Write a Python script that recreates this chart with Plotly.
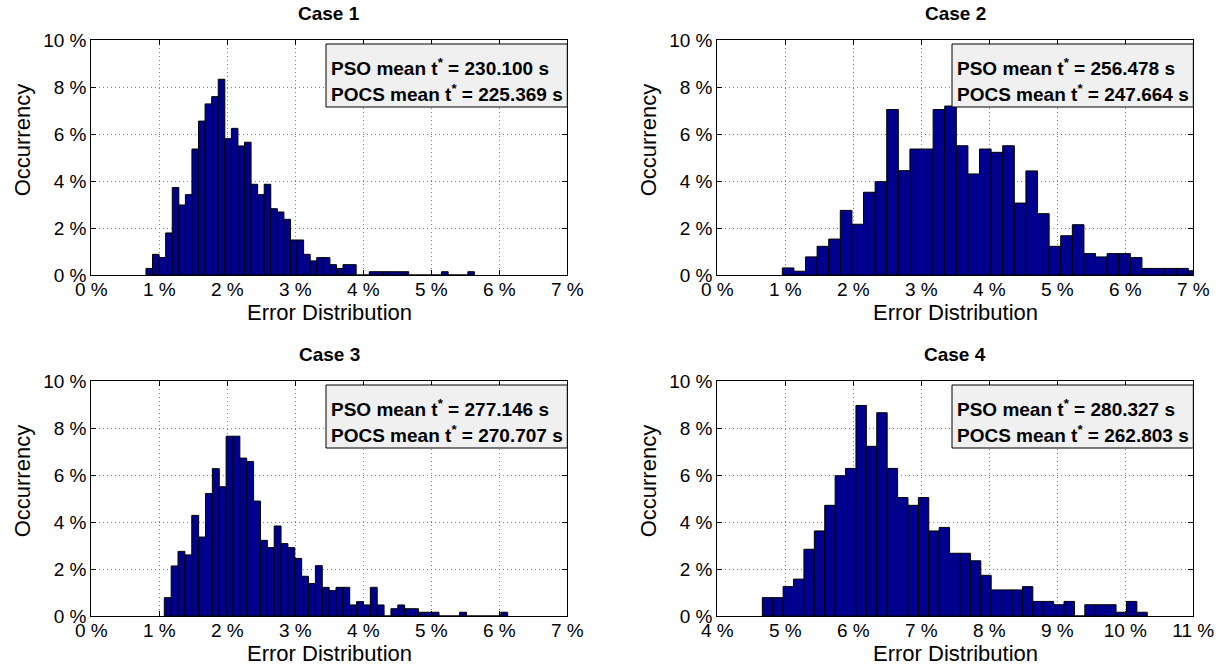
import plotly.graph_objects as go

# ---------------- data ----------------
case_titles = ["Case 1", "Case 2", "Case 3", "Case 4"]
pso_means = ["230.100", "256.478", "277.146", "280.327"]
pocs_means = ["225.369", "247.664", "270.707", "262.803"]

# histogram bin start (%) and bin width (%) for each case
case1_start, case1_width = 0.804, 0.0966
case2_start, case2_width = 0.956, 0.1706
case3_start, case3_width = 1.0735, 0.101
case4_start, case4_width = 4.662, 0.153

# occurrency (%) per bin
case1_vals = [0.28, 0.88, 0.74, 1.79, 3.72, 2.98, 3.42, 5.36, 6.55, 7.28,
              7.59, 8.33, 5.80, 6.24, 5.49, 5.65, 3.86, 3.42, 3.86, 2.82,
              2.68, 2.37, 1.49, 1.49, 0.88, 0.60, 0.74, 0.74, 0.44, 0.28,
              0.44, 0.44, 0, 0, 0.14, 0.14, 0.14, 0.14, 0.14, 0.14,
              0, 0, 0, 0, 0, 0.14, 0, 0, 0, 0.14]
case2_vals = [0.30, 0.16, 0.77, 1.22, 1.53, 2.75, 2.16, 3.52, 3.97, 7.04,
              4.44, 5.36, 5.36, 7.04, 7.19, 5.50, 4.30, 5.36, 5.22, 5.50,
              3.06, 4.43, 2.61, 1.22, 1.67, 2.14, 0.91, 0.77, 0.91, 0.91,
              0.74, 0.28, 0.28, 0.28, 0.28, 0.18]
case3_vals = [0.78, 2.13, 2.75, 2.60, 4.28, 3.36, 5.21, 6.27, 5.50, 7.65,
              7.65, 6.72, 6.57, 4.89, 3.22, 2.91, 3.83, 3.08, 2.91, 2.45,
              1.69, 1.38, 2.14, 1.22, 1.08, 1.22, 1.22, 0.47, 0.61, 0.47,
              1.22, 0.47, 0, 0.31, 0.47, 0.31, 0.31, 0.16, 0.16, 0.16,
              0, 0, 0, 0.16, 0, 0, 0, 0, 0, 0.16]
case4_vals = [0.78, 0.78, 1.25, 1.57, 2.84, 3.62, 4.71, 5.97, 6.28, 8.96,
              7.22, 8.65, 6.28, 5.04, 4.71, 5.04, 3.62, 3.77, 2.67, 2.67,
              2.35, 1.73, 1.11, 1.11, 1.11, 1.25, 0.62, 0.62, 0.48, 0.62,
              0, 0.48, 0.48, 0.48, 0.16, 0.62, 0.16]

x_tick_sets = [[0, 1, 2, 3, 4, 5, 6, 7], [0, 1, 2, 3, 4, 5, 6, 7],
               [0, 1, 2, 3, 4, 5, 6, 7], [4, 5, 6, 7, 8, 9, 10, 11]]
y_ticks = [0, 2, 4, 6, 8, 10]

# ---------------- layout helpers ----------------
W, H = 1231, 672
def px(x):
    return x / W
def py(y):
    return 1 - y / H

FONT = "Liberation Sans, Arial, Helvetica, sans-serif"
BAR_COLOR = "rgb(0,0,143)"

# plot areas in pixels: (left, right, top, bottom)
areas = [(91.3, 567.3, 40, 275), (717.3, 1193.3, 40, 275),
         (91.3, 567.3, 381, 616), (717.3, 1193.3, 381, 616)]

starts = [case1_start, case2_start, case3_start, case4_start]
widths = [case1_width, case2_width, case3_width, case4_width]
vals = [case1_vals, case2_vals, case3_vals, case4_vals]

fig = go.Figure()
shapes = []
annotations = []

for i in range(4):
    ax = "" if i == 0 else str(i + 1)
    s, w, v = starts[i], widths[i], vals[i]
    centers = [s + (k + 0.5) * w for k in range(len(v))]
    fig.add_trace(go.Bar(
        x=centers, y=v, width=[w] * len(v),
        marker=dict(color=BAR_COLOR, line=dict(color="black", width=1)),
        xaxis="x" + ax, yaxis="y" + ax, showlegend=False, hoverinfo="x+y",
    ))
    L, R, T, B = areas[i]
    xt = x_tick_sets[i]
    common = dict(showline=True, linecolor="black", linewidth=1, mirror="ticks",
                  ticks="inside", ticklen=5, tickcolor="black",
                  showgrid=True, gridcolor="#808080", griddash="1px,3px", gridwidth=1,
                  zeroline=False, tickfont=dict(family=FONT, size=19, color="black"),
                  tickmode="array", automargin=False)
    fig.update_layout(**{
        "xaxis" + ax: dict(domain=[px(L), px(R)], range=[xt[0], xt[-1]], anchor="y" + ax,
                           tickvals=xt, ticktext=[f"{t} %" for t in xt],
                           ticklabelstandoff=-3, **common),
        "yaxis" + ax: dict(domain=[py(B), py(T)], range=[0, 10], anchor="x" + ax,
                           tickvals=y_ticks, ticktext=[f"{t} %" for t in y_ticks], **common),
    })
    cx = (L + R) / 2
    # title
    annotations.append(dict(text="<b>" + case_titles[i] + "</b>", x=px(cx), y=py(T - 27),
                            xref="paper", yref="paper", showarrow=False,
                            xanchor="center", yanchor="middle",
                            font=dict(family=FONT, size=19, color="black")))
    # x label
    annotations.append(dict(text="Error Distribution", x=px(cx), y=py(B + 37),
                            xref="paper", yref="paper", showarrow=False,
                            xanchor="center", yanchor="middle",
                            font=dict(family=FONT, size=22, color="black")))
    # y label
    annotations.append(dict(text="Occurrency", x=px(L - 69), y=py(T + 100),
                            xref="paper", yref="paper", showarrow=False, textangle=-90,
                            xanchor="center", yanchor="middle",
                            font=dict(family=FONT, size=22, color="black")))
    # info box
    bx0 = L + 234.7
    shapes.append(dict(type="rect", xref="paper", yref="paper",
                       x0=px(bx0), x1=px(R), y0=py(T + 67), y1=py(T + 4),
                       fillcolor="#f0f0f0", line=dict(color="black", width=1)))
    for j, txt in enumerate(["PSO mean t<sup>*</sup> = " + pso_means[i] + " s",
                             "POCS mean t<sup>*</sup> = " + pocs_means[i] + " s"]):
        annotations.append(dict(text="<b>" + txt + "</b>", x=px(bx0 + 3), y=py(T + 27 + 26 * j),
                                xref="paper", yref="paper", showarrow=False,
                                xanchor="left", yanchor="middle",
                                font=dict(family=FONT, size=19, color="black")))

fig.update_layout(width=W, height=H, margin=dict(l=0, r=0, t=0, b=0, autoexpand=False),
                  paper_bgcolor="white", plot_bgcolor="white",
                  shapes=shapes, annotations=annotations, barmode="overlay",
                  font=dict(family=FONT, color="black"))

fig.write_html("out.html")
